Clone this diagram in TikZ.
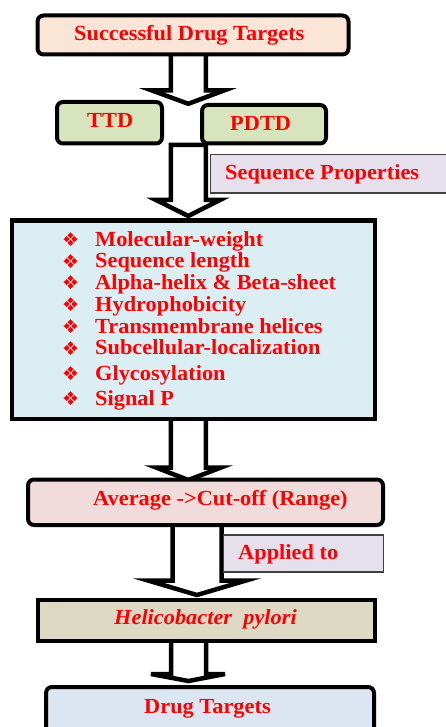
\documentclass[tikz,border=0pt]{standalone}
\usepackage{fontspec}
\setmainfont[FakeStretch=1.04]{Liberation Serif}
\newfontfamily\dejavu{DejaVu Sans}
\definecolor{cPeach}{HTML}{FBE5D6}
\definecolor{cGreen}{HTML}{D7E4BD}
\definecolor{cBlue}{HTML}{DBEEF4}
\definecolor{cLav}{HTML}{E5E0EC}
\definecolor{cPink}{HTML}{F2DCDB}
\definecolor{cTan}{HTML}{DDD9C4}
\definecolor{cGrey}{HTML}{DCE6F2}
\definecolor{cRed}{HTML}{FF0000}
\tikzset{
  txt/.style={text=cRed, font=\fontsize{21.5}{25}\selectfont\bfseries, inner sep=0pt, anchor=base west},
  bul/.style={text=cRed, font=\dejavu\fontsize{19}{22}\selectfont, inner sep=0pt, anchor=base west},
  bigbox/.style={draw=black, line width=4pt},
  thinbox/.style={draw=black!75, line width=1.2pt},
  blockarrow/.style={draw=black, fill=white, line width=4.5pt, line join=miter},
}
% xl xr ytop ybase hl hr ytip
\newcommand\blkarrow[7]{%
  \draw[blockarrow] (#1,#3) -- (#1,#4) -- (#5,#4) -- ({(#1+#2)/2},#7) -- (#6,#4) -- (#2,#4) -- (#2,#3) -- cycle;}
\begin{document}
\begin{tikzpicture}[x=1pt,y=-1pt]
\useasboundingbox (0,0) rectangle (446,727);
\clip (0,0) rectangle (446,727);
% arrows
\blkarrow{170.8}{205.8}{50}{90.5}{152}{224}{103.8}
\blkarrow{170.8}{205.8}{145}{200}{156}{220}{216}
\blkarrow{170.8}{205.8}{415}{467.5}{156}{221}{480}
\blkarrow{172.5}{221.5}{520}{580.5}{148}{246}{595}
\blkarrow{171}{206}{636}{674}{151}{225}{681}
% boxes
\draw[bigbox, fill=cPeach, rounded corners=6pt] (37.5,15.5) rectangle (348.5,54.5);
\node[txt] (t1) at (74,41) {Successful Drug Targets};
\draw[bigbox, fill=cGreen, rounded corners=6pt] (57,102) rectangle (162,143.5);
\node[txt] (ttd) at (87,128) {TTD};
\draw[bigbox, fill=cGreen, rounded corners=6pt] (202,105) rectangle (326,143.5);
\node[txt] (pdtd) at (230,130.5) {PDTD};
\draw[thinbox, fill=cLav] (210.5,154.5) rectangle (452,193);
\node[txt] (seq) at (225,180) {Sequence Properties};
\draw[bigbox, fill=cBlue] (11.5,220.5) rectangle (374.5,418.5);
\foreach \y/\t [count=\i] in {246/Molecular-weight, 267.5/Sequence length, 289/Alpha-helix \& Beta-sheet, 311/Hydrophobicity, 333/Transmembrane helices, 354.5/Subcellular-localization, 380/Glycosylation, 405/Signal P}{
  \node[bul] (b\i) at (62,\y+0.5) {❖};
  \node[txt] (p\i) at (95,\y) {\t};
}
\draw[bigbox, fill=cPink, rounded corners=6pt] (28,479.5) rectangle (383,525);
\node[txt] (avg) at (93,505) {Average ->Cut-off (Range)};
\draw[thinbox, fill=cLav] (223.5,535) rectangle (383.5,572);
\node[txt] (app) at (238,559) {Applied to};
\draw[bigbox, fill=cTan] (38,599.5) rectangle (374.5,641);
\node[txt, font=\fontsize{21.5}{25}\selectfont\bfseries\itshape] (hp) at (114,624) {Helicobacter\ \ pylori};
\draw[bigbox, fill=cGrey, rounded corners=6pt] (46,687) rectangle (374,745);
\node[txt] (dt) at (144,713) {Drug Targets};
\end{tikzpicture}
\end{document}
